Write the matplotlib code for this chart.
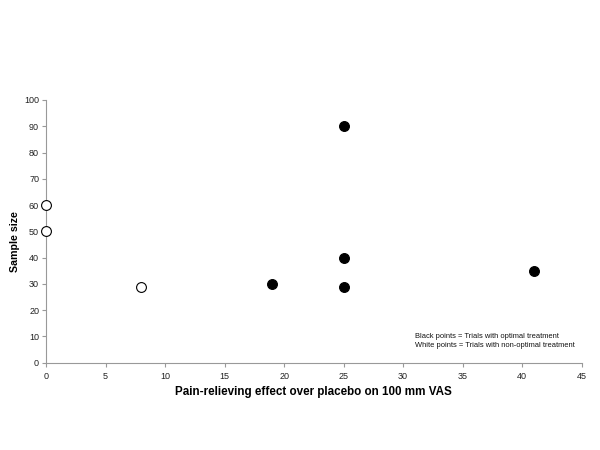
import matplotlib.pyplot as plt

plt.rcParams['font.family'] = ['Liberation Sans', 'DejaVu Sans']

# optimal treatment trials (black points)
optimal_effect = [19, 25, 25, 25, 41]
optimal_size = [30, 29, 40, 90, 35]

# non-optimal treatment trials (white points)
nonoptimal_effect = [0, 0, 8]
nonoptimal_size = [60, 50, 29]

fig = plt.figure(figsize=(6, 4.5), dpi=100)
ax = fig.add_axes([0.0767, 0.194, 0.8928, 0.5838])

ax.scatter(optimal_effect, optimal_size, s=50, c='black', edgecolors='black',
           linewidths=0.8, zorder=3, clip_on=False)
ax.scatter(nonoptimal_effect, nonoptimal_size, s=50, c='white', edgecolors='black',
           linewidths=0.8, zorder=3, clip_on=False)

ax.set_xlim(0, 45)
ax.set_ylim(0, 100)
ax.set_xticks(range(0, 46, 5))
ax.set_yticks(range(0, 101, 10))

for side in ['top', 'right']:
    ax.spines[side].set_visible(False)
for side in ['left', 'bottom']:
    ax.spines[side].set_color('#999999')
    ax.spines[side].set_linewidth(0.8)
ax.tick_params(axis='both', colors='#999999', labelcolor='#222222', labelsize=6.5,
               length=3, width=0.8, direction='out')
ax.tick_params(axis='y', pad=2)

ax.set_xlabel('Pain-relieving effect over placebo on 100 mm VAS', fontsize=8.4,
              fontweight='bold', va='center')
ax.xaxis.set_label_coords(0.5, -0.110)
ax.set_ylabel('Sample size', fontsize=7.7, fontweight='bold', va='center')
ax.yaxis.set_label_coords(-0.058, 0.463)

ax.text(31.0, 8.45, 'Black points = Trials with optimal treatment\n'
        'White points = Trials with non-optimal treatment',
        fontsize=5.4, va='center', ha='left', color='#111111', linespacing=1.4)

fig.savefig('out.png', dpi=100)
